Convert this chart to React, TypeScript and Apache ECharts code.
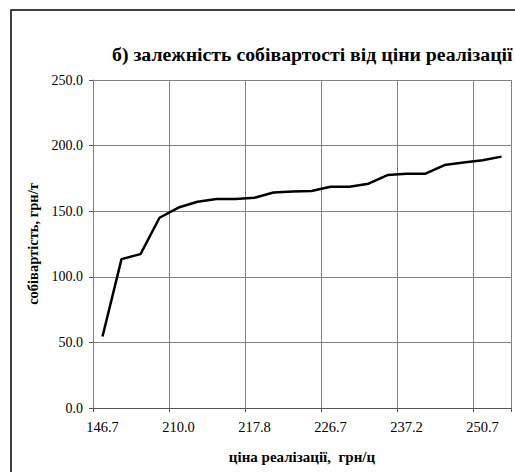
import React, { useEffect, useRef } from "react";
import * as echarts from "echarts";

const categories = [
  "146.7", "170.0", "185.0", "200.0",
  "210.0", "212.0", "214.0", "216.0",
  "217.8", "220.0", "222.0", "224.5",
  "226.7", "229.0", "231.5", "234.5",
  "237.2", "240.0", "243.5", "247.0",
  "250.7", "254.0",
];
const costValues = [
  54.5, 113.5, 117.3, 145.0,
  152.8, 157.2, 159.3, 159.3,
  160.3, 164.3, 165.0, 165.4,
  168.6, 168.6, 171.0, 177.5,
  178.6, 178.6, 185.2, 187.2,
  188.8, 191.6,
];
const yTicks = { min: 0, max: 250, interval: 50 };
const titleText = "б) залежність собівартості від ціни реалізації";
const xName = "ціна реалізації,  грн/ц";
const yName = "собівартість, грн/т";

const FONT = "Liberation Serif";
const every4 = (index: number) => index % 4 === 0;

export default function App() {
  const ref = useRef<HTMLDivElement>(null);
  useEffect(() => {
    if (!ref.current) return;
    const chart = echarts.init(ref.current, undefined, { renderer: "svg" });
    chart.setOption({
      animation: false,
      backgroundColor: "#ffffff",
      textStyle: { fontFamily: FONT },
      title: {
        text: titleText,
        left: 112,
        top: 44,
        padding: 0,
        textStyle: { fontFamily: FONT, fontSize: 19.8, fontWeight: "bold", color: "#000" },
      },
      graphic: [
        {
          type: "rect",
          shape: { x: 11, y: 10, width: 700, height: 700 },
          style: { fill: "none", stroke: "#000", lineWidth: 1.5 },
          silent: true,
        },
      ],
      grid: { left: 93, right: 4, top: 80, bottom: 64, containLabel: false },
      xAxis: {
        type: "category",
        data: categories,
        boundaryGap: true,
        name: xName,
        nameLocation: "middle",
        nameGap: 41,
        nameTextStyle: { fontFamily: FONT, fontSize: 15, fontWeight: "bold", color: "#000" },
        axisLine: { lineStyle: { color: "#555", width: 1 } },
        axisTick: { show: true, interval: every4, length: 4, inside: false, lineStyle: { color: "#555" } },
        axisLabel: { interval: 3, margin: 11, fontFamily: FONT, fontSize: 14.5, color: "#000" },
        splitLine: { show: true, interval: every4, lineStyle: { color: "#808080", width: 1 } },
      },
      yAxis: {
        type: "value",
        min: yTicks.min,
        max: yTicks.max,
        interval: yTicks.interval,
        name: yName,
        nameLocation: "middle",
        nameRotate: 90,
        nameGap: 48,
        nameTextStyle: { fontFamily: FONT, fontSize: 14.5, fontWeight: "bold", color: "#000", padding: [0, 0, 0, 0] },
        axisLine: { show: true, lineStyle: { color: "#808080", width: 1 } },
        axisTick: { show: true, length: 4, lineStyle: { color: "#555" } },
        axisLabel: {
          margin: 10,
          fontFamily: FONT,
          fontSize: 14,
          color: "#000",
          formatter: (v: number) => v.toFixed(1),
        },
        splitLine: { show: true, lineStyle: { color: "#808080", width: 1 } },
      },
      series: [
        {
          type: "line",
          data: costValues,
          symbol: "none",
          lineStyle: { color: "#000", width: 2.5 },
        },
      ],
    });
    return () => chart.dispose();
  }, []);
  return (
    <div
      ref={ref}
      style={{ position: "fixed", left: 0, top: 0, width: 515, height: 472, background: "#fff" }}
    />
  );
}
